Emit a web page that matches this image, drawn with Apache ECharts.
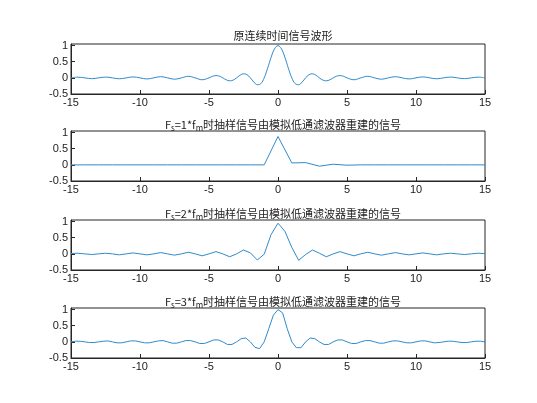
<!DOCTYPE html>
<html>
<head>
<meta charset="utf-8">
<script src="https://cdn.jsdelivr.net/npm/echarts@6/dist/echarts.min.js"></script>
<style>html,body{margin:0;padding:0;background:#fff}#main{width:537px;height:403px}</style>
</head>
<body>
<div id="main"></div>
<script>
// 原连续时间信号
var t1 = [-15,-14.5,-14,-13.5,-13,-12.5,-12,-11.5,-11,-10.5,-10,-9.5,-9,-8.5,-8,-7.5,-7,-6.5,-6,-5.5,-5,
    -4.75,-4.5,-4.25,-4,-3.75,-3.5,-3.25,-3,-2.75,-2.5,-2.25,-2,-1.75,-1.5,-1.25,-1,-0.75,-0.5,-0.25,0,
    0.25,0.5,0.75,1,1.25,1.5,1.75,2,2.25,2.5,2.75,3,3.25,3.5,3.75,4,4.25,4.5,4.75,5,
    5.5,6,6.5,7,7.5,8,8.5,9,9.5,10,10.5,11,11.5,12,12.5,13,13.5,14,14.5,15];
var y1 = [0,0.022,0,-0.024,0,0.025,0,-0.028,0,0.03,0,-0.034,0,0.037,0,-0.042,0,0.049,0,-0.058,0,
    0.047,0.071,0.053,0,-0.06,-0.091,-0.069,0,0.082,0.127,0.1,0,-0.129,-0.212,-0.18,0,0.3,0.637,0.9,1,
    0.9,0.637,0.3,0,-0.18,-0.212,-0.129,0,0.1,0.127,0.082,0,-0.069,-0.091,-0.06,0,0.053,0.071,0.047,0,
    -0.058,0,0.049,0,-0.042,0,0.037,0,-0.034,0,0.03,0,-0.028,0,0.025,0,-0.024,0,0.022,0];

// Fs=1*fm
var t2 = [-15,-14,-13,-12,-11,-10,-9,-8,-7,-6,-5,-4,-3,-2,-1,0,1,2,3,4,5,6,7,8,9,10,11,12,13,14,15];
var y2 = [0,0,0,0,0,0,0,0,0,0,0,0,0,0,0,0.88,0.06,0.07,-0.04,0.02,-0.01,0,0,0,0,0,0,0,0,0,0];

// Fs=2*fm
var t3 = [-15,-14.5,-14,-13.5,-13,-12.5,-12,-11.5,-11,-10.5,-10,-9.5,-9,-8.5,-8,-7.5,-7,-6.5,-6,-5.5,-5,
    -4.5,-4,-3.5,-3,-2.5,-2,-1.5,-1,-0.5,0,0.5,1,1.5,2,2.5,3,3.5,4,4.5,5,
    5.5,6,6.5,7,7.5,8,8.5,9,9.5,10,10.5,11,11.5,12,12.5,13,13.5,14,14.5,15];
var y3 = [0.01,0.02,0,-0.02,0,0.02,0,-0.03,0,0.03,0,-0.03,0,0.04,0,-0.04,0,0.05,0,-0.06,0,
    0.07,0,-0.09,0,0.12,0.03,-0.19,-0.01,0.6,0.95,0.7,0.2,-0.2,-0.02,0.12,0.02,-0.09,0,0.07,0,
    -0.06,0,0.05,0,-0.04,0,0.04,0,-0.03,0,0.03,0,-0.03,0,0.02,0,-0.02,0,0.02,0.01];

// Fs=3*fm
var t4 = [-15,-14.667,-14.333,-14,-13.667,-13.333,-13,-12.667,-12.333,-12,-11.667,-11.333,-11,-10.667,-10.333,
    -10,-9.667,-9.333,-9,-8.667,-8.333,-8,-7.667,-7.333,-7,-6.667,-6.333,-6,-5.667,-5.333,
    -5,-4.667,-4.333,-4,-3.667,-3.333,-3,-2.667,-2.333,-2,-1.667,-1.333,-1,-0.667,-0.333,0,
    0.333,0.667,1,1.333,1.667,2,2.333,2.667,3,3.333,3.667,4,4.333,4.667,5,
    5.333,5.667,6,6.333,6.667,7,7.333,7.667,8,8.333,8.667,9,9.333,9.667,10,
    10.333,10.667,11,11.333,11.667,12,12.333,12.667,13,13.333,13.667,14,14.333,14.667,15];
var y4 = [0,0.02,0.02,0,-0.02,-0.02,0,0.02,0.03,0,-0.03,-0.03,0,0.03,0.03,
    0,-0.03,-0.03,0,0.03,0.04,0,-0.04,-0.04,0,0.04,0.04,0,-0.05,-0.05,
    0,0.06,0.06,0,-0.08,-0.08,0,0.10,0.12,0,-0.17,-0.21,0,0.41,0.83,1,
    0.9,0.41,0,-0.18,-0.18,0,0.12,0.10,0,-0.08,-0.08,0,0.06,0.06,0,
    -0.05,-0.05,0,0.04,0.04,0,-0.04,-0.04,0,0.03,0.03,0,-0.03,-0.03,0,
    0.03,0.03,0,-0.03,-0.02,0,0.02,0.02,0,-0.02,-0.02,0,0.02,0.02,0];

var titles = ['原连续时间信号波形', 'F{sub|s}=1*f{sub|m}时抽样信号由模拟低通滤波器重建的信号',
    'F{sub|s}=2*f{sub|m}时抽样信号由模拟低通滤波器重建的信号', 'F{sub|s}=3*f{sub|m}时抽样信号由模拟低通滤波器重建的信号'];
var xTicks = [-15, -10, -5, 0, 5, 10, 15];
var yTicks = [-0.5, 0, 0.5, 1];

var tops = [44, 131, 220, 308];
var series = [[t1, y1], [t2, y2], [t3, y3], [t4, y4]];
var chart = echarts.init(document.getElementById('main'));
var font = 'Liberation Sans, Arial, sans-serif';
var option = {grid: [], xAxis: [], yAxis: [], series: [], title: [], animation: false};
tops.forEach(function (top, i) {
    option.grid.push({left: 71, right: 52, top: top, height: 50, show: true,
        borderColor: '#262626', borderWidth: 1, backgroundColor: '#fff'});
    option.title.push({text: titles[i], left: 278, top: top - 19, textAlign: 'center',
        textStyle: {fontSize: 11, fontWeight: 'normal', color: '#222', fontFamily: 'Noto Sans CJK SC',
            rich: {sub: {fontSize: 8, verticalAlign: 'bottom', padding: [7, 0, 0, 0], color: '#222'}}}});
    option.xAxis.push({type: 'value', gridIndex: i, min: xTicks[0], max: xTicks[xTicks.length - 1], interval: 5,
        axisLine: {show: true, onZero: false, lineStyle: {color: '#262626'}},
        axisTick: {inside: true, length: 4, lineStyle: {color: '#262626'}},
        splitLine: {show: false}, axisLabel: {color: '#222', fontSize: 11, fontFamily: font, margin: 3}});
    option.yAxis.push({type: 'value', gridIndex: i, min: yTicks[0], max: 1.05, interval: 0.5,
        axisLine: {show: true, onZero: false, lineStyle: {color: '#262626'}},
        axisTick: {inside: true, length: 4, lineStyle: {color: '#262626'}},
        splitLine: {show: false},
        axisLabel: {color: '#222', fontSize: 11, fontFamily: font, margin: 3, showMaxLabel: false,
            formatter: function (v) { return yTicks.indexOf(v) >= 0 ? String(v) : ''; }}});
    var d = series[i][0].map(function (x, k) { return [x, series[i][1][k]]; });
    option.series.push({type: 'line', xAxisIndex: i, yAxisIndex: i, data: d, showSymbol: false,
        smooth: i === 0 ? 0.4 : false, lineStyle: {color: '#2e8ccb', width: 1}});
});
chart.setOption(option);
</script>
</body>
</html>
